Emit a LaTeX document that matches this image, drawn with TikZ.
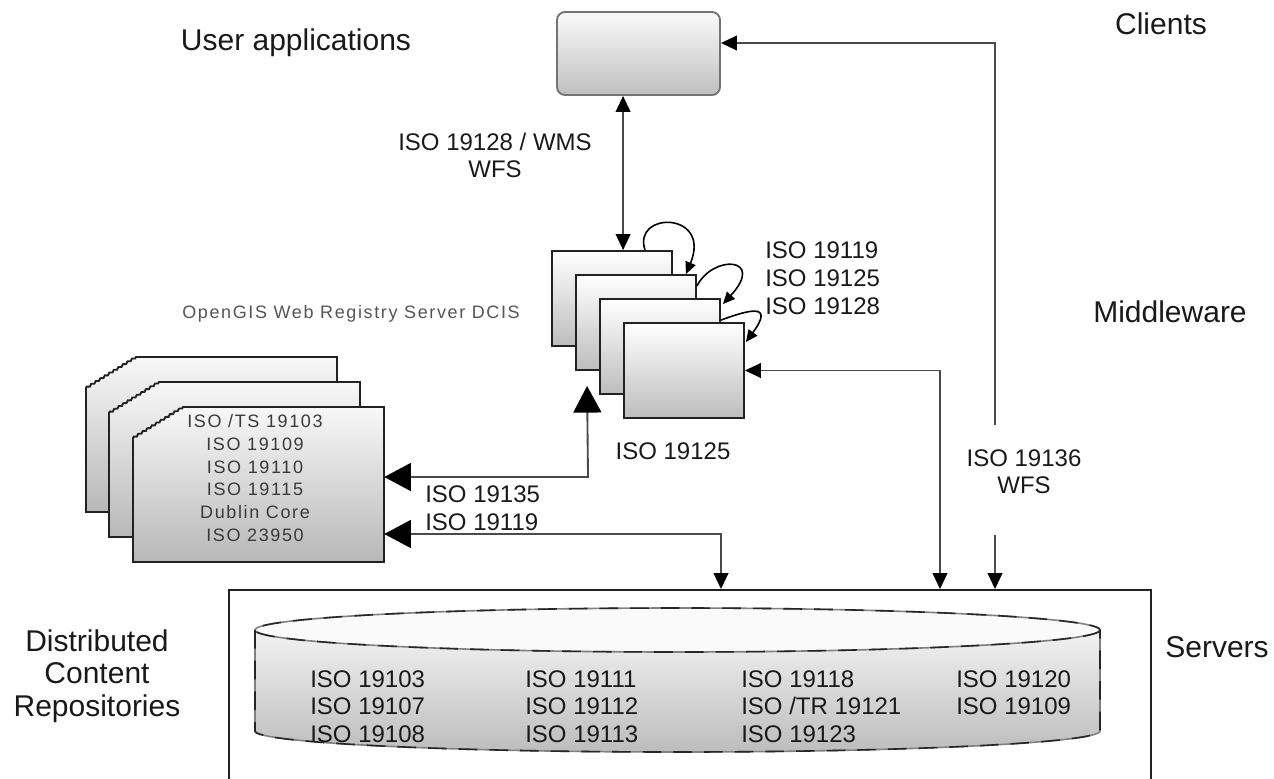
\documentclass[tikz,border=0pt]{standalone}
\usepackage{fontspec}
\setmainfont{Liberation Sans}
\newfontfamily\smallspc[LetterSpace=9]{Liberation Sans}
\newfontfamily\boxspc[LetterSpace=9]{Liberation Sans}
\usetikzlibrary{arrows.meta,calc,decorations.pathmorphing}
\definecolor{lineg}{HTML}{4A4A4A}
\definecolor{boxb}{HTML}{222222}
\definecolor{shadeb}{HTML}{BDBDBD}
\definecolor{greytxt}{HTML}{555555}
\definecolor{boxtxt}{HTML}{3A3A3A}
\newcommand\cutbox[2]{\path[lshape] (#1,#2+155) -- (#1,#2+31) decorate{-- (#1+50,#2)} -- (#1+251,#2) -- (#1+251,#2+155) -- cycle;}
\begin{document}
\begin{tikzpicture}[x=0.75pt,y=-0.75pt,
  smalltip/.tip={Triangle[length=12pt,width=11pt,color=black]},
  bigtip/.tip={Triangle[length=20pt,width=21pt,color=black]},
  looptip/.tip={Triangle[length=9pt,width=8pt,color=black]},
  lbl/.style={inner sep=0, text=black!90, font=\fontsize{18pt}{20.25pt}\selectfont, align=center},
  sect/.style={inner sep=0, text=black!90, font=\fontsize{22.5pt}{24pt}\selectfont, align=center},
  conn/.style={draw=lineg, line width=1.4pt},
  loopc/.style={draw=black, line width=1.2pt, -looptip},
  mbox/.style={draw=boxb, line width=1.4pt, top color=white, bottom color=shadeb, minimum width=90pt, minimum height=71.25pt, inner sep=0},
  lshape/.style={draw=boxb, line width=1.4pt, top color=white!97!black, bottom color=black!28, decoration={zigzag,segment length=4pt,amplitude=0.6pt}},
  cylbody/.style={top color=white!95!black, bottom color=black!26},
  cylline/.style={draw=black!50, line width=1.2pt}]
\useasboundingbox (0,0) rectangle (1274,778);
\clip (0,0) rectangle (1274,778);

% section labels
\node[sect] (uapp) at (296,43) {User applications};
\node[sect] (cli) at (1161,24) {Clients};
\node[sect] (mid) at (1170,312) {Middleware};
\node[sect] (srvl) at (1217,647) {Servers};
\node[sect, font=\fontsize{22.5pt}{24.5pt}\selectfont] (dcr) at (97,676) {Distributed\\Content\\Repositories};

% top client box
\node[draw=black!55, line width=1.4pt, rounded corners=6pt, top color=white!98!black, bottom color=black!25,
      minimum width=122.25pt, minimum height=62.25pt, inner sep=0] (topbox) at (638.5,53.5) {};

% server box
\node[draw=boxb, line width=1.4pt, minimum width=691.5pt, minimum height=165pt, inner sep=0] (srv) at (690,700) {};

% cylinder
\path[cylbody] (255,630) -- (255,731) arc[start angle=180, end angle=0, x radius=422.5, y radius=21] -- (1100,630) -- cycle;
\draw[cylline] (255,630) -- (255,731) arc[start angle=180, end angle=0, x radius=422.5, y radius=21] -- (1100,630);
\draw[cylline, fill=white!98!black] (677.5,630) ellipse [x radius=422.5, y radius=22];
\draw[draw=black!85, line width=1.2pt, dash pattern=on 14pt off 9pt] (255,630) -- (255,731) arc[start angle=180, end angle=0, x radius=422.5, y radius=21] -- (1100,630);
\draw[draw=black!85, line width=1.2pt, dash pattern=on 14pt off 9pt] (677.5,630) ellipse [x radius=422.5, y radius=22];

\node[lbl, align=left, anchor=west, font=\fontsize{18pt}{20.6pt}\selectfont] (c1) at (310,706.5) {ISO 19103\\ISO 19107\\ISO 19108};
\node[lbl, align=left, anchor=west, font=\fontsize{18pt}{20.6pt}\selectfont] (c2) at (525,706.5) {ISO 19111\\ISO 19112\\ISO 19113};
\node[lbl, align=left, anchor=west, font=\fontsize{18pt}{20.6pt}\selectfont] (c3) at (741,706.5) {ISO 19118\\ISO /TR 19121\\ISO 19123};
\node[lbl, align=left, anchor=west, font=\fontsize{18pt}{20.6pt}\selectfont] (c4) at (956,692.5) {ISO 19120\\ISO 19109};

% middleware stack
\node[mbox] (box1) at (612,298.5) {};
\node[mbox] (box2) at (636,322.5) {};
\node[mbox] (box3) at (660,346.5) {};
\node[mbox] (box4) at (684,370.5) {};

\draw[loopc] ($(box1.north)+(33,0)$) .. controls ($(box1.north)+(20,-39)$) and ($(box1.north)+(100,-39)$) .. ($(box2.north)+(50,0)$);
\draw[loopc] ($(box2.north east)+(0,12)$) .. controls ($(box2.north east)+(16,-20)$) and ($(box2.north east)+(69,-17)$) .. ($(box3.north east)+(2,6)$);
\draw[loopc] ($(box3.north east)+(0,22)$) .. controls ($(box3.north east)+(25,13)$) and ($(box3.north east)+(55,3)$) .. ($(box4.north east)+(1,20)$);

\node[lbl, align=left, anchor=west, font=\fontsize{18pt}{21pt}\selectfont] (l19) at (765,278) {ISO 19119\\ISO 19125\\ISO 19128};
\node[lbl] (l125) at (673,451) {ISO 19125};
\node[lbl] (l128) at (495,155) {ISO 19128 / WMS\\WFS};
\node[lbl] (l136) at (1024,472) {ISO 19136\\WFS};

% OpenGIS label
\node[inner sep=0, text=greytxt, font=\smallspc\fontsize{13.5pt}{15pt}\selectfont] (ogis) at (351,314) {OpenGIS Web Registry Server DCIS};

% left stack
\cutbox{86}{357}
\cutbox{109}{382}
\cutbox{133}{407}
\node[minimum width=188.25pt, minimum height=116.25pt, inner sep=0] (lc) at (258.5,484.5) {};
\node[inner sep=0, text=boxtxt, align=center, font=\boxspc\fontsize{13.5pt}{17.1pt}\selectfont] (ltext) at (255,478) {ISO /TS 19103\\ISO 19109\\ISO 19110\\ISO 19115\\Dublin Core\\ISO 23950};

% coordinates
\coordinate (k588) at (588,477);
\coordinate (k721) at (721,534);
\coordinate (k940) at (940,372);
\coordinate (k995a) at (995,425);
\coordinate (k995t) at (995,43);
\coordinate (k995b) at (995,535);

% connectors
\draw[conn, smalltip-smalltip] (topbox.south -| box4.north west) -- (box1.north -| box4.north west);
\draw[conn, -smalltip] (k995a) -- (k995t) -- (k995t -| topbox.east);
\draw[conn, -smalltip] (k995b) -- (k995b |- srv.north);
\draw[conn, smalltip-smalltip] (k940 |- srv.north) |- (box4.east);
\draw[conn, bigtip-bigtip] (lc.east |- k588) -- (k588) -- ($(box2.south west)+(12,15)$);
\draw[conn, bigtip-smalltip] (lc.east |- k721) -- (k721) -- (k721 |- srv.north);

\node[lbl, anchor=west] (l135) at (425,494) {ISO 19135};
\node[lbl, anchor=west] (l119) at (425,522) {ISO 19119};
\end{tikzpicture}
\end{document}
